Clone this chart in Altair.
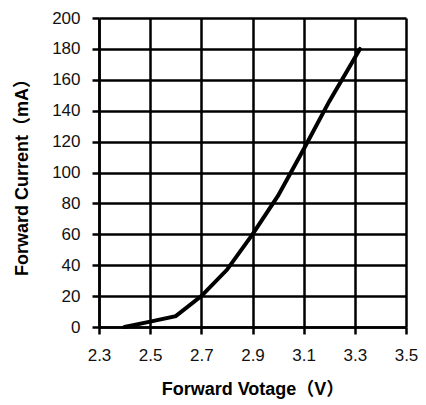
import altair as alt
import pandas as pd

voltage = [2.4, 2.5, 2.6, 2.7, 2.8, 2.9, 3.0, 3.1, 3.2, 3.32]
current = [0, 3.5, 7, 20, 37, 60, 85, 115, 146, 180]
x_ticks = [2.3, 2.5, 2.7, 2.9, 3.1, 3.3, 3.5]
y_ticks = [0, 20, 40, 60, 80, 100, 120, 140, 160, 180, 200]

df = pd.DataFrame({"v": voltage, "i": current})

chart = alt.Chart(df).mark_line(color="black", strokeWidth=4, strokeCap="round").encode(
    x=alt.X("v:Q", scale=alt.Scale(domain=[2.3, 3.5], nice=False, zero=False),
            axis=alt.Axis(values=x_ticks, format=".1f", title="Forward Votage（V）",
                          labelPadding=13, titlePadding=17, labelFlush=False)),
    y=alt.Y("i:Q", scale=alt.Scale(domain=[0, 200], nice=False),
            axis=alt.Axis(values=y_ticks, title="Forward Current（mA）",
                          labelPadding=12, titlePadding=20, labelFlush=False)),
).properties(
    width=307, height=309,
    autosize=alt.AutoSizeParams(type="none"),
    padding={"left": 91, "top": 10, "right": 12, "bottom": 76},
).configure_view(stroke=None).configure_axis(
    grid=True, gridColor="black", gridWidth=2.5, gridOpacity=1,
    domainColor="black", domainWidth=2.5,
    tickColor="black", tickWidth=2.5, tickSize=7,
    labelFont="Liberation Sans", labelFontSize=17, labelColor="#111",
    titleFont="Liberation Sans, Noto Sans CJK SC", titleFontSize=18, titleFontWeight="bold", titleColor="black",
)

chart.save("out.html", embed_options={"renderer": "svg", "actions": False})
